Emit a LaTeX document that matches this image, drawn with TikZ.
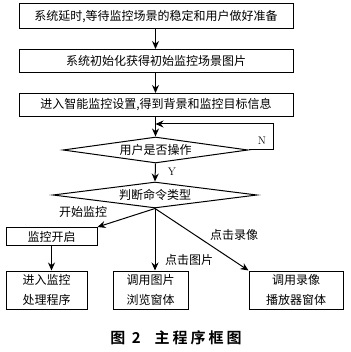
\documentclass[tikz,border=0pt]{standalone}
\usepackage{fontspec}
\newfontfamily\cjk{Noto Sans CJK SC}
\newfontfamily\cjkb[LetterSpace=20]{Noto Sans CJK SC Bold}
\usetikzlibrary{shapes.geometric,arrows.meta}
\begin{document}
\begin{tikzpicture}[x=1pt,y=-1pt,
  font=\cjk\fontsize{12}{20}\selectfont,
  box/.style={draw,line width=1pt,inner sep=0pt,align=center},
  dec/.style={draw,line width=1pt,diamond,inner sep=0pt,aspect=8},
  arr/.style={line width=1pt,-{Stealth[length=8pt,width=7pt]}},
  lbl/.style={inner sep=0pt}]
\useasboundingbox (0,0) rectangle (350,352);
\node[box,minimum width=274pt,minimum height=25pt] (b1) at (156,16.5) {系统延时,等待监控场景的稳定和用户做好准备};
\node[box,minimum width=274pt,minimum height=23pt] (b2) at (156,61) {系统初始化获得初始监控场景图片};
\node[box,minimum width=274pt,minimum height=23pt] (b3) at (156,105) {进入智能监控设置,得到背景和监控目标信息};
\node[dec,minimum width=185pt,minimum height=26pt] (d1) at (155.5,150) {用户是否操作};
\node[dec,minimum width=204pt,minimum height=26pt] (d2) at (155,195) {判断命令类型};
\node[box,minimum width=91pt,minimum height=18pt] (m1) at (51.5,236.5) {监控开启};
\node[box,minimum width=81pt,minimum height=38pt] (p1) at (46.5,290) {进入监控\\处理程序};
\node[box,minimum width=75pt,minimum height=38pt] (p2) at (150.5,290) {调用图片\\浏览窗体};
\node[box,minimum width=94pt,minimum height=38pt] (p3) at (296,290) {调用录像\\播放器窗体};
\coordinate (c1) at (155.5,117);
\coordinate (lp1) at (273,150);
\coordinate (lp2) at (273,124);
\coordinate (lp3) at (155.5,124);
\draw[arr] (b1.south -| c1) -- (b2.north -| c1);
\draw[arr] (b2.south -| c1) -- (b3.north -| c1);
\draw[arr] (b3.south -| c1) -- (d1.north);
\draw[arr] (d1.east) -- (lp1) -- (lp2) -- (lp3);
\draw[arr] (d1.south) -- (d2.north);
\draw[arr] (d2.south) -- (m1.north east);
\draw[arr] (d2.south) -- (d2.south |- p2.north);
\draw[arr] (d2.south) -- (p3.north west);
\draw[arr] (m1.south) -- (m1.south |- p1.north);
\node[lbl,font=\fontfamily{lmr}\selectfont\fontsize{11}{12}\selectfont] (n) at (262,141) {N};
\node[lbl,font=\fontfamily{lmr}\selectfont\fontsize{11}{12}\selectfont] (y) at (172,172) {Y};
\node[lbl] (l1) at (83,212) {开始监控};
\node[lbl] (l2) at (189,260) {点击图片};
\node[lbl] (l3) at (234,235) {点击录像};
\node[lbl,font=\cjkb\fontsize{15}{16}\selectfont] (cap) at (176,338) {图 2\hspace{14pt}主程序框图};
\end{tikzpicture}
\end{document}
